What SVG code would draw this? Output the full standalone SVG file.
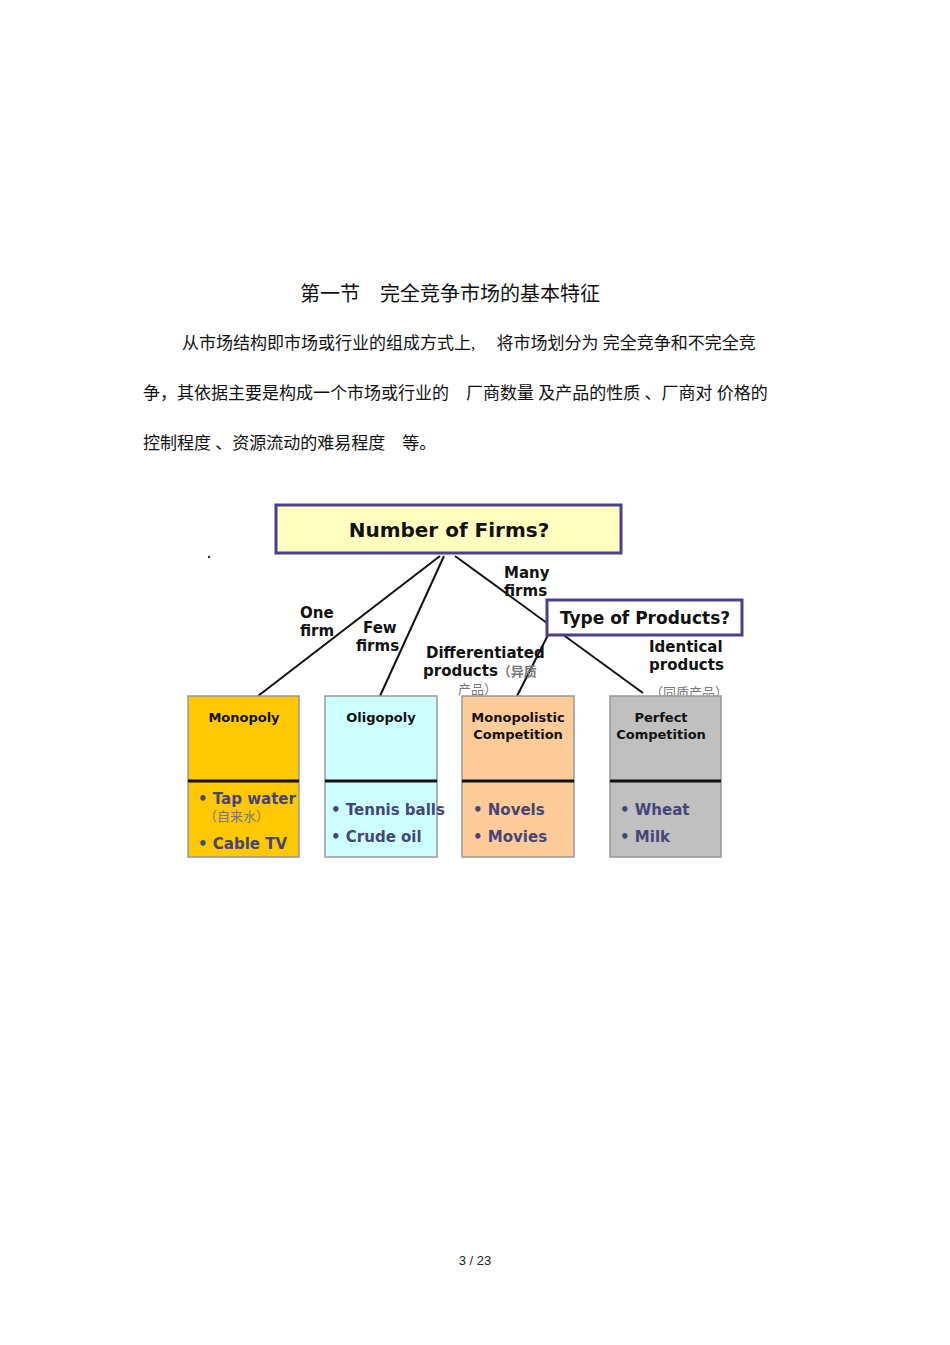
<svg xmlns="http://www.w3.org/2000/svg" width="950" height="1345" viewBox="0 0 950 1345">
<style>
.zh{font-family:"Liberation Serif","Noto Sans CJK SC",serif;font-size:17px;fill:#111}
.b{font-family:"DejaVu Sans","Liberation Sans",sans-serif;font-weight:bold;fill:#111}
.it{font-family:"DejaVu Sans","Liberation Sans",sans-serif;font-weight:bold;font-size:15px;fill:#45457a}
.cj{font-family:"Noto Sans CJK SC",sans-serif;font-size:13px;fill:#777}
.ln{stroke:#111;stroke-width:2;fill:none}
.box{stroke:#999;stroke-width:1.5}
.div{stroke:#111;stroke-width:3}
</style>
<rect width="950" height="1345" fill="#fff"/>
<text class="zh" x="300" y="301" font-size="20" style="font-size:20px">第一节　完全竞争市场的基本特征</text>
<text class="zh" x="182" y="349">从市场结构即市场或行业的组成方式上,　 将市场划分为 完全竞争和不完全竞</text>
<text class="zh" x="143" y="399">争，其依据主要是构成一个市场或行业的　厂商数量 及产品的性质 、厂商对 价格的</text>
<text class="zh" x="143" y="449">控制程度 、资源流动的难易程度　等。</text>
<circle cx="209" cy="557" r="1.2" fill="#333"/>
<g id="connectors">
<line class="ln" x1="440" y1="556" x2="258" y2="696"/>
<line class="ln" x1="444" y1="556" x2="380" y2="696"/>
<line class="ln" x1="455" y1="556" x2="643" y2="693"/>
<line class="ln" x1="548" y1="635" x2="517" y2="696"/>
<text class="b" font-size="15" x="300" y="618">One</text>
<text class="b" font-size="15" x="300" y="636">firm</text>
<text class="b" font-size="15" x="363" y="633">Few</text>
<text class="b" font-size="15" x="356" y="651">firms</text>
<text class="b" font-size="15" x="504" y="578">Many</text>
<text class="b" font-size="15" x="504" y="596">firms</text>
<text class="b" font-size="15" x="426" y="658">Differentiated</text>
<text class="b" font-size="15" x="423" y="676">products<tspan class="cj">（异质</tspan></text>
<text class="cj" x="458" y="694">产品）</text>
<text class="b" font-size="15" x="649" y="652">Identical</text>
<text class="b" font-size="15" x="649" y="670">products</text>
<text class="cj" x="650" y="697">（同质产品）</text>
</g>
<g id="n-number"><rect x="276" y="505" width="345" height="48" fill="#ffffc0" stroke="#4a3f8f" stroke-width="3"/>
<text class="b" font-size="20" x="449" y="537" text-anchor="middle">Number of Firms?</text></g>
<g id="n-type"><rect x="547" y="600" width="195" height="35" fill="#fff" stroke="#4a3f8f" stroke-width="3"/>
<text class="b" font-size="17" x="645" y="624" text-anchor="middle">Type of Products?</text></g>
<g id="n-monopoly"><rect class="box" x="188" y="696" width="111" height="161" fill="#ffc800"/>
<line class="div" x1="188" y1="781" x2="299" y2="781"/>
<text class="b" font-size="13" x="244" y="722" text-anchor="middle">Monopoly</text>
<text class="it" x="198" y="804">• Tap water</text>
<text class="cj" x="204" y="821">（自来水）</text>
<text class="it" x="198" y="849">• Cable TV</text></g>
<g id="n-oligopoly"><rect class="box" x="325" y="696" width="112" height="161" fill="#ccffff"/>
<line class="div" x1="325" y1="781" x2="437" y2="781"/>
<text class="b" font-size="13" x="381" y="722" text-anchor="middle">Oligopoly</text>
<text class="it" x="331" y="815">• Tennis balls</text>
<text class="it" x="331" y="842">• Crude oil</text></g>
<g id="n-monocomp"><rect class="box" x="462" y="696" width="112" height="161" fill="#ffcc99"/>
<line class="div" x1="462" y1="781" x2="574" y2="781"/>
<text class="b" font-size="13" x="518" y="722" text-anchor="middle">Monopolistic</text>
<text class="b" font-size="13" x="518" y="739" text-anchor="middle">Competition</text>
<text class="it" x="473" y="815">• Novels</text>
<text class="it" x="473" y="842">• Movies</text></g>
<g id="n-perfect"><rect class="box" x="610" y="696" width="111" height="161" fill="#c0c0c0"/>
<line class="div" x1="610" y1="781" x2="721" y2="781"/>
<text class="b" font-size="13" x="661" y="722" text-anchor="middle">Perfect</text>
<text class="b" font-size="13" x="661" y="739" text-anchor="middle">Competition</text>
<text class="it" x="620" y="815">• Wheat</text>
<text class="it" x="620" y="842">• Milk</text></g>
<text x="475" y="1265" text-anchor="middle" font-family="Liberation Sans,sans-serif" font-size="13" fill="#222">3 / 23</text>
</svg>
